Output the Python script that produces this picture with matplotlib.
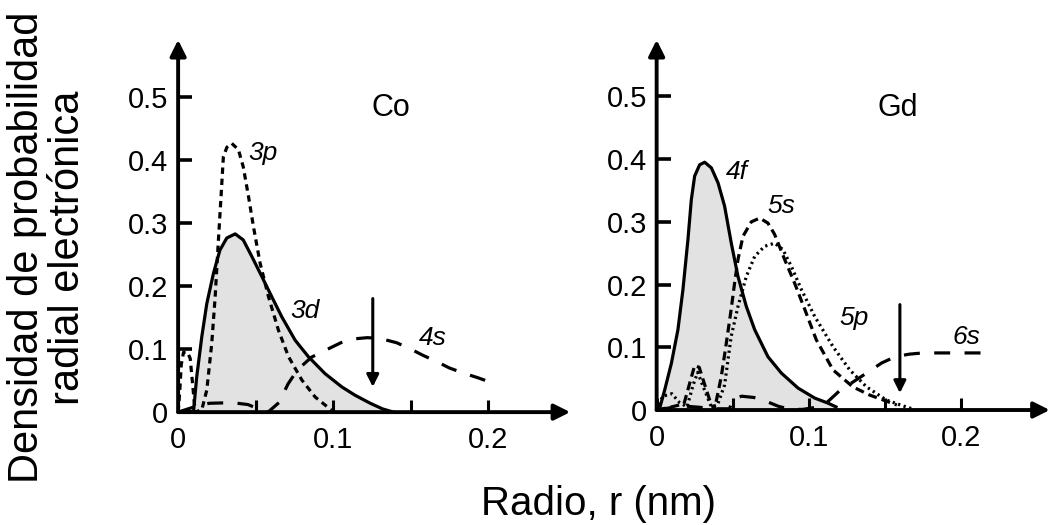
import matplotlib
matplotlib.use("Agg")
import matplotlib.pyplot as plt

plt.rcParams['font.family'] = ['Liberation Sans', 'DejaVu Sans']

# ---- Co panel (radio en nm, densidad) ----
co_3d_r = [0.0, 0.0099, 0.012, 0.0153, 0.0185, 0.0228, 0.027, 0.0314, 0.0368, 0.042, 0.0475,
           0.054, 0.0604, 0.0669, 0.0755, 0.084, 0.0948, 0.1056, 0.114, 0.124, 0.132, 0.139]
co_3d_d = [0.0, 0.0, 0.056, 0.12, 0.172, 0.22, 0.257, 0.276, 0.2825, 0.273, 0.247,
           0.215, 0.183, 0.151, 0.114, 0.088, 0.061, 0.040, 0.027, 0.014, 0.005, 0.0]

co_3p_r = [0.0, 0.001, 0.002, 0.0035, 0.006, 0.0078, 0.0095, 0.011, 0.0153, 0.0185, 0.0217,
           0.0239, 0.026, 0.0277, 0.0292, 0.0315, 0.0346, 0.0389, 0.042, 0.0454, 0.0486,
           0.0529, 0.0583, 0.0647, 0.0712, 0.0798, 0.0884, 0.099]
co_3p_d = [0.0, 0.03, 0.075, 0.095, 0.095, 0.085, 0.04, 0.0, 0.004, 0.035, 0.109,
           0.183, 0.273, 0.342, 0.405, 0.42, 0.426, 0.416, 0.389, 0.342, 0.294,
           0.236, 0.183, 0.130, 0.088, 0.051, 0.024, 0.003]

co_4s_r = [0.0, 0.01, 0.02, 0.035, 0.045, 0.052, 0.058, 0.065, 0.071, 0.077, 0.086, 0.095,
           0.105, 0.113, 0.122, 0.13, 0.141, 0.15, 0.158, 0.167, 0.175, 0.184, 0.194, 0.203]
co_4s_d = [0.0, 0.008, 0.014, 0.015, 0.012, 0.005, 0.0, 0.015, 0.045, 0.067, 0.087, 0.098,
           0.11, 0.116, 0.118, 0.117, 0.11, 0.1, 0.09, 0.08, 0.07, 0.062, 0.054, 0.046]

co_arrow = (0.1256, 0.18, 0.04)  # r, inicio, punta

# ---- Gd panel ----
gd_4f_r = [0.0, 0.002, 0.0053, 0.0097, 0.014, 0.0173, 0.0206, 0.0228, 0.025, 0.0283, 0.0316,
           0.036, 0.0404, 0.0447, 0.0491, 0.0535, 0.059, 0.0645, 0.0732, 0.082, 0.093,
           0.104, 0.1127, 0.118]
gd_4f_d = [0.0, 0.003, 0.032, 0.0745, 0.128, 0.192, 0.272, 0.335, 0.373, 0.391, 0.395,
           0.386, 0.362, 0.325, 0.266, 0.213, 0.165, 0.128, 0.085, 0.059, 0.035,
           0.019, 0.011, 0.005]

gd_5s_r = [0.0, 0.01, 0.018, 0.022, 0.025, 0.028, 0.031, 0.035, 0.038, 0.0425, 0.0458,
           0.049, 0.0513, 0.0535, 0.0568, 0.0623, 0.0678, 0.0732, 0.0776, 0.0842, 0.0908,
           0.0975, 0.105, 0.116, 0.129, 0.14, 0.149, 0.158]
gd_5s_d = [0.0, 0.005, 0.01, 0.045, 0.071, 0.068, 0.045, 0.015, 0.0, 0.053, 0.106,
           0.16, 0.203, 0.24, 0.277, 0.300, 0.306, 0.298, 0.28, 0.24, 0.202,
           0.16, 0.112, 0.064, 0.037, 0.024, 0.016, 0.008]

gd_5p_r = [0.0, 0.004, 0.01, 0.015, 0.02, 0.024, 0.027, 0.031, 0.036, 0.04, 0.0447,
           0.049, 0.0535, 0.059, 0.0645, 0.071, 0.0776, 0.083, 0.0886, 0.0952, 0.104,
           0.116, 0.127, 0.138, 0.151, 0.164, 0.168]
gd_5p_d = [0.0, 0.022, 0.026, 0.012, 0.005, 0.04, 0.06, 0.035, 0.005, 0.008, 0.04,
           0.117, 0.165, 0.213, 0.245, 0.261, 0.266, 0.256, 0.229, 0.192, 0.149,
           0.101, 0.064, 0.037, 0.016, 0.005, 0.002]

gd_6s_r = [0.0, 0.01, 0.02, 0.03, 0.04, 0.048, 0.05, 0.056, 0.064, 0.072, 0.08, 0.088, 0.096,
           0.104, 0.112, 0.12, 0.13, 0.14, 0.148, 0.157, 0.166, 0.175, 0.19, 0.205, 0.215]
gd_6s_d = [0.0, 0.004, 0.006, 0.004, 0.002, 0.002, 0.018, 0.022, 0.02, 0.014, 0.006, 0.001, 0.001,
           0.004, 0.012, 0.03, 0.046, 0.062, 0.075, 0.085, 0.089, 0.091, 0.091, 0.091, 0.091]

gd_arrow = (0.16, 0.168, 0.027)

xticks = [0, 0.05, 0.1, 0.15, 0.2]
xticklabels = ['0', '', '0.1', '', '0.2']
yticks = [0, 0.1, 0.2, 0.3, 0.4, 0.5]
yticklabels = ['0', '0.1', '0.2', '0.3', '0.4', '0.5']

fig = plt.figure(figsize=(10.54, 5.25), dpi=100)
ax1 = fig.add_axes([0.169, 0.215, 0.372, 0.709])
ax2 = fig.add_axes([0.623, 0.219, 0.373, 0.705])

lw = 2.3
solid = dict(color='k', lw=lw)
short_dash = dict(color='k', lw=lw, linestyle=(0, (2.0, 1.5)))
mid_dash = dict(color='k', lw=lw, linestyle=(0, (2.8, 1.6)))
long_dash = dict(color='k', lw=lw, linestyle=(0, (5.0, 4.5)))
dotted = dict(color='k', lw=lw, linestyle=(0, (0.7, 1.1)))


def setup(ax, xmax):
    ax.set_xlim(0, xmax)
    ax.set_ylim(0, 0.59)
    for s in ax.spines.values():
        s.set_visible(False)
    ax.set_xticks(xticks)
    ax.set_xticklabels(xticklabels)
    ax.set_yticks(yticks)
    ax.set_yticklabels(yticklabels)
    ax.tick_params(axis='x', direction='in', length=9, width=2.2, labelsize=21, pad=10)
    ax.tick_params(axis='y', direction='in', length=10, width=2.6, labelsize=21, pad=7)
    ax.patch.set_visible(False)
    arrow = dict(arrowstyle='-|>', lw=2.8, color='k', mutation_scale=24,
                 shrinkA=0, shrinkB=0)
    ax.annotate('', xy=(0, 1), xytext=(0, 0), xycoords='axes fraction', arrowprops=arrow)
    ax.annotate('', xy=(1, 0), xytext=(0, 0), xycoords='axes fraction', arrowprops=arrow)


setup(ax1, 0.253)
setup(ax2, 0.2586)

curve_font = dict(fontsize=19, style='italic', ha='center', va='center')

# Co
ax1.fill_between(co_3d_r, co_3d_d, color='#e2e2e2', lw=0)
ax1.plot(co_3d_r, co_3d_d, **solid)
ax1.plot(co_3p_r, co_3p_d, **short_dash)
ax1.plot(co_4s_r, co_4s_d, **long_dash)
ax1.annotate('', xy=(co_arrow[0], co_arrow[2]), xytext=(co_arrow[0], co_arrow[1]),
             arrowprops=dict(arrowstyle='-|>', lw=2.2, color='k', mutation_scale=18,
                             shrinkA=0, shrinkB=0))
ax1.text(0.137, 0.482, 'Co', fontsize=22, ha='center', va='center')
ax1.text(0.055, 0.411, '3p', **curve_font)
ax1.text(0.082, 0.16, '3d', **curve_font)
ax1.text(0.164, 0.117, '4s', **curve_font)

# Gd
ax2.fill_between(gd_4f_r, gd_4f_d, color='#e2e2e2', lw=0)
ax2.plot(gd_4f_r, gd_4f_d, **solid)
ax2.plot(gd_5s_r, gd_5s_d, **mid_dash)
ax2.plot(gd_5p_r, gd_5p_d, **dotted)
ax2.plot(gd_6s_r, gd_6s_d, **long_dash)
ax2.annotate('', xy=(gd_arrow[0], gd_arrow[2]), xytext=(gd_arrow[0], gd_arrow[1]),
             arrowprops=dict(arrowstyle='-|>', lw=2.2, color='k', mutation_scale=18,
                             shrinkA=0, shrinkB=0))
ax2.text(0.1586, 0.482, 'Gd', fontsize=22, ha='center', va='center')
ax2.text(0.053, 0.38, '4f', **curve_font)
ax2.text(0.082, 0.325, '5s', **curve_font)
ax2.text(0.13, 0.147, '5p', **curve_font)
ax2.text(0.204, 0.117, '6s', **curve_font)

fig.text(0.568, 0.019, 'Radio, r (nm)', fontsize=29, ha='center', va='baseline')
fig.text(0.045, 0.528, 'Densidad de probabilidad\nradial electrónica', fontsize=30,
         rotation=90, ha='center', va='center', multialignment='center', linespacing=1.05)

fig.savefig('out.png', dpi=100)
